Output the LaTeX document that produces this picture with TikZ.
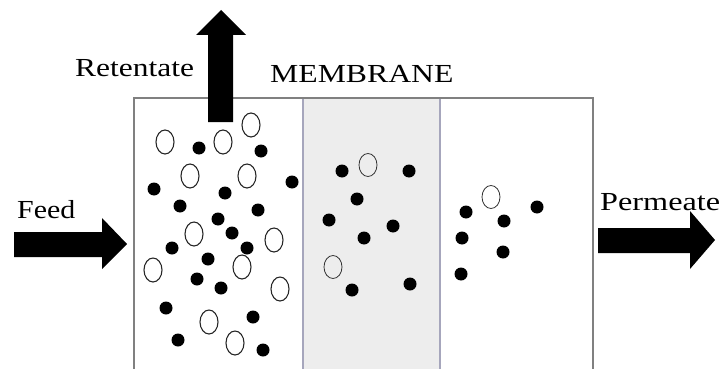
\documentclass[tikz,border=0pt]{standalone}
\usepackage{fontspec}
\setmainfont{Liberation Serif}
\usepackage{graphicx}
\begin{document}
\begin{tikzpicture}[x=1pt,y=-1pt,
  lbl/.style={inner sep=0pt,anchor=base west,font=\fontsize{26}{30}\selectfont},
  wall/.style={draw=black!50,line width=1.6pt},
  memline/.style={draw=blue!25!black!35,line width=1.2pt},
  blockarrow/.style={fill=black,draw=none},
  oc/.style={draw=black!85,line width=1.1pt,fill=none},
  ocm/.style={draw=black!80,line width=0.8pt,fill=none},
  dot/.style={fill=black,draw=none}]
\useasboundingbox (0,0) rectangle (722,369);
\fill[white] (0,0) rectangle (722,369);
% membrane
\fill[black!7] (303,98) rectangle (440,369);
\draw[memline] (303,98) -- (303,369);
\draw[memline] (440,98) -- (440,369);
% box walls
\draw[wall] (134,369) -- (134,98) -- (593,98) -- (593,369);
% arrows
\fill[blockarrow] (208,122) -- (208,35) -- (196,35) -- (221,10) -- (246,35) -- (233,35) -- (233,122) -- cycle;
\fill[blockarrow] (14,232) -- (102,232) -- (102,218) -- (127,244) -- (102,269) -- (102,257) -- (14,257) -- cycle;
\fill[blockarrow] (598,228) -- (690,228) -- (690,211) -- (715,240) -- (690,269) -- (690,253) -- (598,253) -- cycle;
% labels
\node[lbl] (ret) at (75,77) {\scalebox{1.21}[1]{Retentate}};
\node[lbl] (mem) at (270,82) {\scalebox{1.22}[1]{MEMBRANE}};
\node[lbl] (feed) at (17,218) {\scalebox{1.15}[1]{Feed}};
\node[lbl] (perm) at (600,210) {\scalebox{1.24}[1]{Permeate}};
% open particles, feed side
\foreach \x/\y in {165/142, 223/142, 251/125, 190/176, 247/176, 194/234, 274/240, 153/270, 242/267, 280/289, 209/322, 235/343}
  \draw[oc] (\x,\y) ellipse [x radius=9, y radius=12];
% filled particles, feed side
\foreach \x/\y in {199/148, 261/151, 154/189, 292/182, 225/193, 180/206, 258/210, 218/219, 232/233, 172/248, 247/248, 208/259, 197/279, 221/288, 166/308, 253/317, 178/340, 263/350}
  \fill[dot] (\x,\y) circle [radius=6.5];
% membrane particles
\foreach \x/\y in {368/165, 333/267}
  \draw[ocm] (\x,\y) ellipse [x radius=9, y radius=11.5];
\foreach \x/\y in {342/171, 409/171, 357/199, 329/220, 393/226, 364/238, 352/290, 410/284}
  \fill[dot] (\x,\y) circle [radius=6.5];
% permeate side
\draw[ocm] (491,197) ellipse [x radius=9, y radius=11.5];
\foreach \x/\y in {466/212, 504/221, 537/207, 462/238, 503/252, 461/274}
  \fill[dot] (\x,\y) circle [radius=6.5];
\end{tikzpicture}
\end{document}
